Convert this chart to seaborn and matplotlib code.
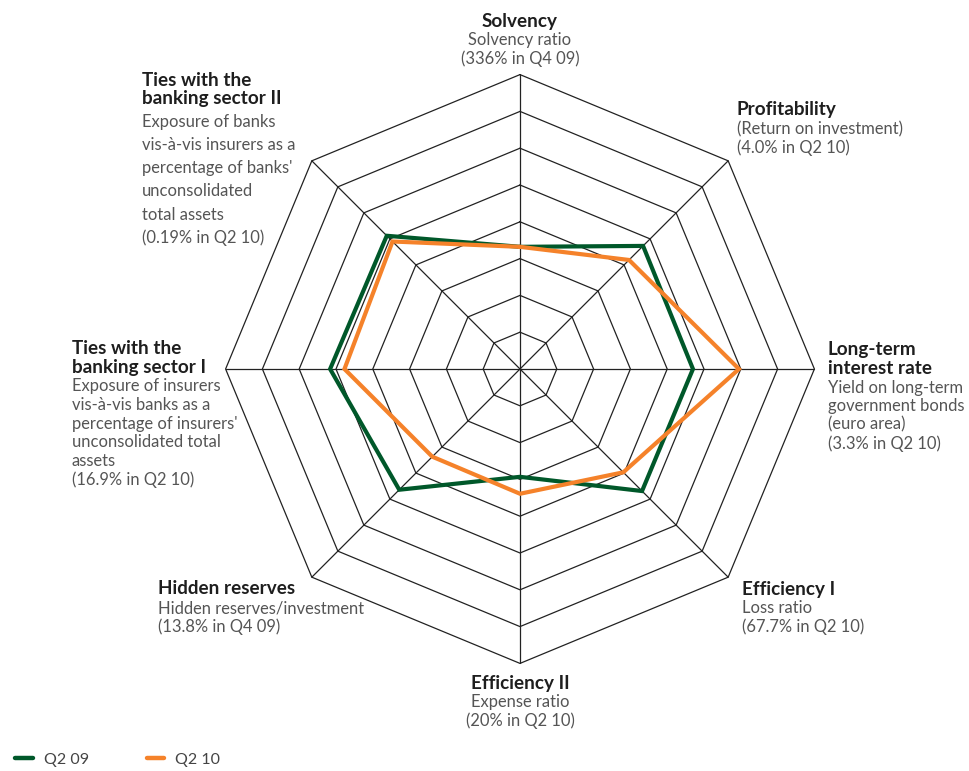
import numpy as np
import pandas as pd
import matplotlib
matplotlib.use("Agg")
import matplotlib.pyplot as plt
from matplotlib.lines import Line2D
import seaborn as sns

# Indicators, clockwise from the top
indicators = ["Solvency", "Profitability", "Long-term interest rate", "Efficiency I",
              "Efficiency II", "Hidden reserves", "Ties with the banking sector I",
              "Ties with the banking sector II"]
# Scores on the 0-8 scale of the web
q2_09 = [3.32, 4.73, 4.70, 4.69, 2.93, 4.64, 5.16, 5.12]
q2_10 = [3.32, 4.19, 5.95, 3.97, 3.39, 3.37, 4.77, 4.90]
series_names = ["Q2 09", "Q2 10"]
n_rings = 8

titles = [["Solvency"], ["Profitability"], ["Long-term", "interest rate"], ["Efficiency I"],
          ["Efficiency II"], ["Hidden reserves"], ["Ties with the", "banking sector I"],
          ["Ties with the", "banking sector II"]]
bodies = [["Solvency ratio", "(336% in Q4 09)"],
          ["(Return on investment)", "(4.0% in Q2 10)"],
          ["Yield on long-term", "government bonds", "(euro area)", "(3.3% in Q2 10)"],
          ["Loss ratio", "(67.7% in Q2 10)"],
          ["Expense ratio", "(20% in Q2 10)"],
          ["Hidden reserves/investment", "(13.8% in Q4 09)"],
          ["Exposure of insurers", "vis-\u00e0-vis banks as a", "percentage of insurers'",
           "unconsolidated total", "assets", "(16.9% in Q2 10)"],
          ["Exposure of banks", "vis-\u00e0-vis insurers as a", "percentage of banks'",
           "unconsolidated", "total assets", "(0.19% in Q2 10)"]]

sns.set_style("white")
plt.rcParams["font.family"] = ["Lato", "DejaVu Sans"]

W, H = 970, 771
cx, cy, step = 520, 369, 36.8
fig = plt.figure(figsize=(W / 100, H / 100), dpi=100)
ax = fig.add_axes([0, 0, 1, 1])
ax.set_xlim(-cx / step, (W - cx) / step)
ax.set_ylim(-(H - cy) / step, cy / step)
ax.set_axis_off()

n = len(indicators)
angles = np.arange(n) * 2 * np.pi / n

def to_xy(values):
    r = np.asarray(values, dtype=float)
    return r * np.sin(angles), r * np.cos(angles)

# Octagonal web
grid_kw = dict(color="#222222", lw=0.9, zorder=1)
for k in range(1, n_rings + 1):
    gx, gy = to_xy([k] * n)
    ax.plot(np.append(gx, gx[0]), np.append(gy, gy[0]), **grid_kw)
for a in angles:
    ax.plot([0, n_rings * np.sin(a)], [0, n_rings * np.cos(a)], **grid_kw)

colors = {"Q2 09": "#00582a", "Q2 10": "#f5822a"}
rows = []
for name, vals in zip(series_names, [q2_09, q2_10]):
    x, y = to_xy(vals)
    for i in list(range(n)) + [0]:
        rows.append({"series": name, "x": x[i], "y": y[i]})
df = pd.DataFrame(rows)
sns.lineplot(data=df, x="x", y="y", hue="series", units="series", estimator=None,
             sort=False, palette=colors, lw=3.0, ax=ax, legend=False, zorder=3)
for l in ax.lines[-2:]:
    l.set_solid_joinstyle("miter")

# Axis labels: (x, y of first line, alignment, body line spacing in px)
label_pos = [(520, 21, "center", 19), (737, 110, "left", 19), (828, 350, "left", 18.6),
             (742, 589, "left", 19), (520, 683, "center", 18.5), (158, 589, "left", 19),
             (72, 349, "left", 18.6), (142, 80, "left", 23.3)]
title_kw = dict(fontsize=13.6, fontweight="bold", color="#1e1e1e")
body_kw = dict(fontsize=11.9, fontweight="normal", color="#555555")
for (px, py, ha, sp), tl, bl in zip(label_pos, titles, bodies):
    y = py
    for t in tl:
        fig.text(px / W, 1 - y / H, t, ha=ha, va="center", **title_kw)
        y += 18.5
    y += 0.5 if sp < 20 else 4.5
    for b in bl:
        fig.text(px / W, 1 - y / H, b, ha=ha, va="center", **body_kw)
        y += sp

handles = [Line2D([], [], color=colors[s], lw=3.2) for s in series_names]
fig.legend(handles, series_names, loc="lower left", bbox_to_anchor=(0.001, -0.013),
           ncol=2, frameon=False, handlelength=1.1, handletextpad=0.7, columnspacing=3.6,
           prop=dict(family=["Lato", "DejaVu Sans"], size=11.5),
           labelcolor="#444444")

fig.savefig("out.png", dpi=100, facecolor="white")
